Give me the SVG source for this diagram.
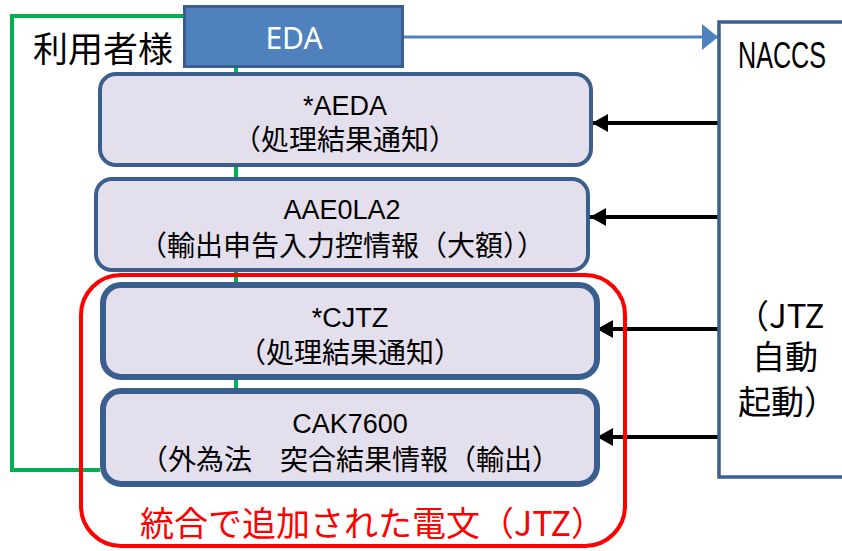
<svg xmlns="http://www.w3.org/2000/svg" width="842" height="551" viewBox="0 0 842 551">
<style>
.box{fill:#E4DFEC;stroke:#3A5F8F;stroke-width:4}
.box2{fill:#E4DFEC;stroke:#3A5F8F;stroke-width:6}
.lat{font-family:"Liberation Sans",sans-serif;font-size:27px;fill:#000;text-anchor:middle}
.jp{font-family:"Noto Sans CJK JP",sans-serif;font-size:28px;fill:#000;text-anchor:middle}
.big{font-family:"Noto Sans CJK JP",sans-serif;font-size:33px;fill:#000}
.green{fill:none;stroke:#00B050;stroke-width:4}
.black{stroke:#000;stroke-width:4}
</style>
<defs>
<marker id="ah" markerUnits="userSpaceOnUse" markerWidth="16" markerHeight="18" refX="16" refY="9" orient="auto">
<path d="M0,0 L16,9 L0,18 z" fill="#000"/>
</marker>
<marker id="bh" markerUnits="userSpaceOnUse" markerWidth="16" markerHeight="26" refX="16" refY="13" orient="auto">
<path d="M0,0 L16,13 L0,26 z" fill="#4F81BD"/>
</marker>
</defs>
<rect width="842" height="551" fill="#fff"/>
<g id="connectors">
<path class="green" d="M183,16 H12 V470 H100"/>
<path class="green" d="M236,68 V392"/>
<line x1="404" y1="37" x2="718" y2="37" stroke="#4F81BD" stroke-width="3" marker-end="url(#bh)"/>
<line class="black" x1="718" y1="123" x2="592" y2="123" marker-end="url(#ah)"/>
<line class="black" x1="718" y1="217" x2="590" y2="217" marker-end="url(#ah)"/>
<line class="black" x1="718" y1="329" x2="597" y2="329" marker-end="url(#ah)"/>
<line class="black" x1="718" y1="437" x2="597" y2="437" marker-end="url(#ah)"/>
</g>
<g id="naccs">
<rect x="719" y="22" width="140" height="455" fill="#fff" stroke="#3A5F8F" stroke-width="3.5"/>
<text x="738" y="68" font-family="Liberation Sans,sans-serif" font-size="36" textLength="88" lengthAdjust="spacingAndGlyphs">NACCS</text>
<text class="big" x="736" y="328">（JTZ</text>
<text class="big" x="752" y="369">自動</text>
<text class="big" x="738" y="414">起動）</text>
</g>
<g id="user">
<text x="33" y="62" font-family="Noto Sans CJK JP,sans-serif" font-size="35">利用者様</text>
</g>
<g id="eda">
<rect x="184.5" y="6.5" width="218" height="60" fill="#4F81BD" stroke="#3A5F8F" stroke-width="3"/>
<text x="294" y="49" font-family="Noto Sans,Liberation Sans,sans-serif" font-size="30" fill="#fff" text-anchor="middle">EDA</text>
</g>
<g id="aeda">
<rect class="box" x="100" y="74" width="491" height="91" rx="16"/>
<text class="lat" x="345" y="115">*AEDA</text>
<text class="jp" x="345" y="150">（処理結果通知）</text>
</g>
<g id="aae0la2">
<rect class="box" x="96" y="179" width="492" height="91" rx="16"/>
<text class="lat" x="342" y="219">AAE0LA2</text>
<text class="jp" x="342" y="256">（輸出申告入力控情報（大額））</text>
</g>
<g id="jtz-group">
<rect x="81" y="275" width="544" height="271" rx="40" fill="none" stroke="#FF0000" stroke-width="4"/>
<text x="140" y="536" font-family="Noto Sans CJK JP,sans-serif" font-size="34" fill="#FF0000">統合で追加された電文（JTZ）</text>
</g>
<g id="cjtz">
<rect class="box2" x="103" y="285" width="494" height="92" rx="18"/>
<text class="lat" x="350" y="327">*CJTZ</text>
<text class="jp" x="350" y="363">（処理結果通知）</text>
</g>
<g id="cak7600">
<rect class="box2" x="103" y="391" width="494" height="93" rx="18"/>
<text class="lat" x="350" y="433">CAK7600</text>
<text class="jp" x="350" y="470">（外為法　突合結果情報（輸出）</text>
</g>
</svg>
